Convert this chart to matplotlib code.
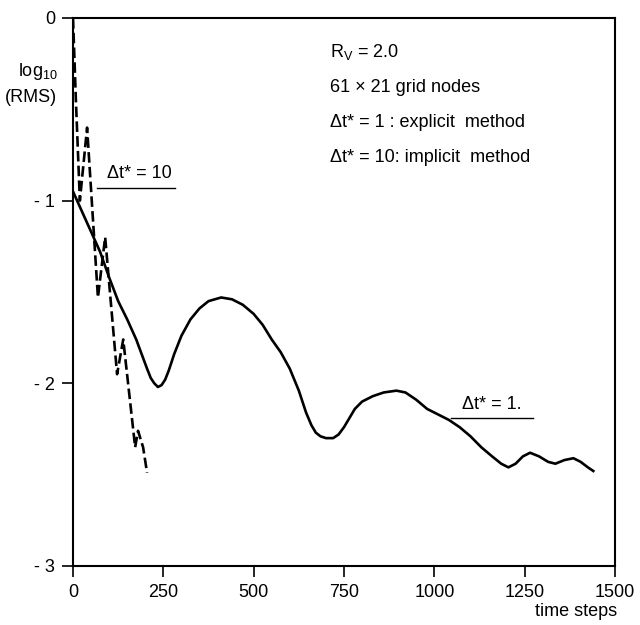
import numpy as np
import matplotlib.pyplot as plt

plt.rcParams['font.family'] = ['Liberation Sans', 'DejaVu Sans']
plt.rcParams['mathtext.fontset'] = 'custom'
plt.rcParams['mathtext.rm'] = 'Liberation Sans'

# explicit method, dt* = 1 (solid)
steps_expl = [0, 25, 50, 75, 100, 125, 150, 175, 190, 205, 215, 225, 235, 245,
              255, 265, 280, 300, 325, 350, 375, 410, 440, 470, 500, 525, 550,
              575, 600, 625, 645, 660, 672, 685, 700, 720, 735, 750, 765, 780,
              800, 830, 860, 895, 920, 950, 980, 1010, 1040, 1070, 1100, 1130,
              1160, 1185, 1205, 1225, 1245, 1265, 1290, 1315, 1335, 1360, 1385,
              1405, 1425, 1440]
rms_expl = [-0.95, -1.06, -1.17, -1.28, -1.42, -1.55, -1.65, -1.76, -1.84,
            -1.92, -1.97, -2.00, -2.02, -2.01, -1.98, -1.93, -1.84, -1.74,
            -1.65, -1.59, -1.55, -1.53, -1.54, -1.57, -1.62, -1.68, -1.76,
            -1.83, -1.92, -2.04, -2.16, -2.23, -2.27, -2.29, -2.30, -2.30,
            -2.28, -2.24, -2.19, -2.14, -2.10, -2.07, -2.05, -2.04, -2.05,
            -2.09, -2.14, -2.17, -2.20, -2.24, -2.29, -2.35, -2.40, -2.44,
            -2.46, -2.44, -2.40, -2.38, -2.40, -2.43, -2.44, -2.42, -2.41,
            -2.43, -2.46, -2.48]

# implicit method, dt* = 10 (dashed)
steps_impl = [0, 8, 19, 39, 69, 89, 122, 139, 172, 180, 194, 205]
rms_impl = [0.0, -0.45, -1.00, -0.60, -1.53, -1.20, -1.95, -1.76, -2.35,
            -2.26, -2.35, -2.49]

xticks = [0, 250, 500, 750, 1000, 1250, 1500]
yticks = [-3, -2, -1, 0]
ytick_labels = ['- 3', '- 2', '- 1', '0']

info_lines = [r'R$_\mathrm{V}$ = 2.0',
              '61 \u00d7 21 grid nodes',
              '\u0394t* = 1 : explicit  method',
              '\u0394t* = 10: implicit  method']

W, H = 640, 625
fig = plt.figure(figsize=(W / 100, H / 100), dpi=100)
ax = fig.add_axes([73 / W, 1 - 566 / H, (615 - 73) / W, (566 - 18) / H])

ax.plot(steps_expl, rms_expl, color='black', lw=1.9, solid_joinstyle='round')
ax.plot(steps_impl, rms_impl, color='black', lw=1.9, dashes=(4, 1.6))

ax.set_xlim(0, 1500)
ax.set_ylim(-3, 0)
ax.set_xticks(xticks)
ax.set_yticks(yticks)
ax.set_yticklabels(ytick_labels)
ax.tick_params(direction='out', length=8, width=1.2, labelsize=13, pad=5,
               color='black')
for s in ax.spines.values():
    s.set_linewidth(1.5)

# curve labels with underline
ax.plot([66, 281], [-0.93, -0.93], color='black', lw=1.0)
ax.text(185, -0.90, '\u0394t* = 10', fontsize=13, ha='center', va='bottom')
ax.plot([1047, 1274], [-2.19, -2.19], color='black', lw=1.0)
ax.text(1160, -2.16, '\u0394t* = 1.', fontsize=13, ha='center', va='bottom')

for i, line in enumerate(info_lines):
    ax.text(711, -0.186 - 0.193 * i, line, fontsize=13, ha='left', va='center')

fig.text(58 / W, 1 - 72 / H, r'log$_{10}$', fontsize=13, ha='right', va='center')
fig.text(57 / W, 1 - 97 / H, '(RMS)', fontsize=13, ha='right', va='center')
fig.text(617 / W, 1 - 612 / H, 'time steps', fontsize=13, ha='right', va='center')

fig.savefig('out.png', dpi=100)
